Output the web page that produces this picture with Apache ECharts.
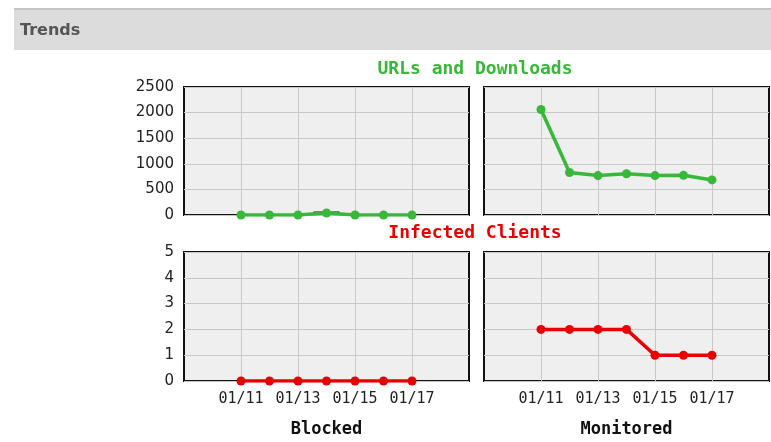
<!DOCTYPE html>
<html>
<head>
<meta charset="utf-8">
<script src="https://cdn.jsdelivr.net/npm/echarts@6/dist/echarts.min.js"></script>
<style>
    html, body { margin: 0; padding: 0; background: #fff; }
    #main { width: 771px; height: 442px; }
</style>
</head>
<body>
<div id="main"></div>
<script>
// axis runs from 01/09 to 01/19, data only for 01/11 .. 01/17
const days = ['01/09', '01/10', '01/11', '01/12', '01/13', '01/14', '01/15', '01/16', '01/17', '01/18', '01/19'];
const shownDays = ['01/11', '01/13', '01/15', '01/17'];
const urlsBlocked = [0, 0, 0, 40, 0, 0, 0];
const urlsBlockedMark = [null, null, null, 40, null, null, null];
const urlsMonitored = [2060, 830, 770, 805, 770, 775, 685];
const clientsBlocked = [0, 0, 0, 0, 0, 0, 0];
const clientsMonitored = [2, 2, 2, 2, 1, 1, 1];
const urlsTicks = [0, 2500, 500];
const clientTicks = [0, 5, 1];

const firstIdx = days.indexOf('01/11');
function onAxis(vals) {
    // place the 7 values on the 11-slot axis
    return days.map((d, i) => {
        const k = i - firstIdx;
        return k >= 0 && k < vals.length ? vals[k] : null;
    });
}
const showDay = (idx) => shownDays.indexOf(days[idx]) >= 0;

const green = '#38b838';
const red = '#e80000';
const monoFont = '"DejaVu Sans Mono", monospace';

const grids = [
    { left: 184, top: 87, width: 285, height: 128 },
    { left: 484, top: 87, width: 285, height: 128 },
    { left: 184, top: 252, width: 285, height: 129 },
    { left: 484, top: 252, width: 285, height: 129 }
].map(g => Object.assign(g, {
    show: true,
    backgroundColor: '#efefef',
    borderColor: '#111',
    borderWidth: 2
}));

function xAxisFor(gi, name) {
    return {
        type: 'category',
        gridIndex: gi,
        data: days,
        boundaryGap: false,
        axisLine: { show: false },
        axisTick: { show: false },
        splitLine: { show: true, interval: showDay, lineStyle: { color: '#c8c8c8' } },
        axisLabel: {
            show: !!name,
            interval: showDay,
            margin: 11,
            color: '#222',
            fontFamily: monoFont,
            fontSize: 15
        },
        name: name || '',
        nameLocation: 'middle',
        nameGap: 40,
        nameTextStyle: { color: '#111', fontFamily: monoFont, fontWeight: 'bold', fontSize: 17 }
    };
}

function yAxisFor(gi, ticks, labels) {
    return {
        type: 'value',
        gridIndex: gi,
        min: ticks[0],
        max: ticks[1],
        interval: ticks[2],
        axisLine: { show: false },
        axisTick: { show: false },
        splitLine: { show: true, lineStyle: { color: '#c8c8c8' } },
        axisLabel: {
            show: labels,
            margin: 10,
            color: '#222',
            formatter: (v) => String(v),
            fontFamily: '"DejaVu Sans", Verdana, sans-serif',
            fontSize: 15
        }
    };
}

function lineSeries(gi, vals, color) {
    return {
        type: 'line',
        xAxisIndex: gi,
        yAxisIndex: gi,
        data: onAxis(vals),
        symbol: 'circle',
        symbolSize: 9,
        showSymbol: true,
        lineStyle: { color: color, width: 3.5 },
        itemStyle: { color: color },
        z: 3
    };
}

let myChart = echarts.init(document.getElementById('main'));
myChart.setOption({
    animation: false,
    backgroundColor: '#fff',
    graphic: [
        { type: 'rect', shape: { x: 14, y: 8, width: 757, height: 42 }, style: { fill: '#dcdcdc' } },
        { type: 'rect', shape: { x: 14, y: 8, width: 757, height: 2 }, style: { fill: '#c4c4c4' } },
        {
            type: 'text', x: 20, y: 31,
            style: {
                text: 'Trends', fill: '#555', font: 'bold 16px "DejaVu Sans", sans-serif',
                textVerticalAlign: 'middle'
            }
        },
        {
            type: 'text', x: 475, y: 69,
            style: {
                text: 'URLs and Downloads', fill: green, font: 'bold 18px ' + monoFont,
                textAlign: 'center', textVerticalAlign: 'middle'
            }
        },
        {
            type: 'text', x: 475, y: 233,
            style: {
                text: 'Infected Clients', fill: red, font: 'bold 18px ' + monoFont,
                textAlign: 'center', textVerticalAlign: 'middle'
            }
        }
    ],
    grid: grids,
    xAxis: [xAxisFor(0), xAxisFor(1), xAxisFor(2, 'Blocked'), xAxisFor(3, 'Monitored')],
    yAxis: [
        yAxisFor(0, urlsTicks, true),
        yAxisFor(1, urlsTicks, false),
        yAxisFor(2, clientTicks, true),
        yAxisFor(3, clientTicks, false)
    ],
    series: [
        {
            // small dark marker under the green line
            type: 'line',
            xAxisIndex: 0,
            yAxisIndex: 0,
            data: onAxis(urlsBlockedMark),
            symbol: 'rect',
            symbolSize: [26, 3],
            itemStyle: { color: '#222' },
            lineStyle: { width: 0 },
            z: 2
        },
        lineSeries(0, urlsBlocked, green),
        lineSeries(1, urlsMonitored, green),
        lineSeries(2, clientsBlocked, red),
        lineSeries(3, clientsMonitored, red)
    ]
});
</script>
</body>
</html>
